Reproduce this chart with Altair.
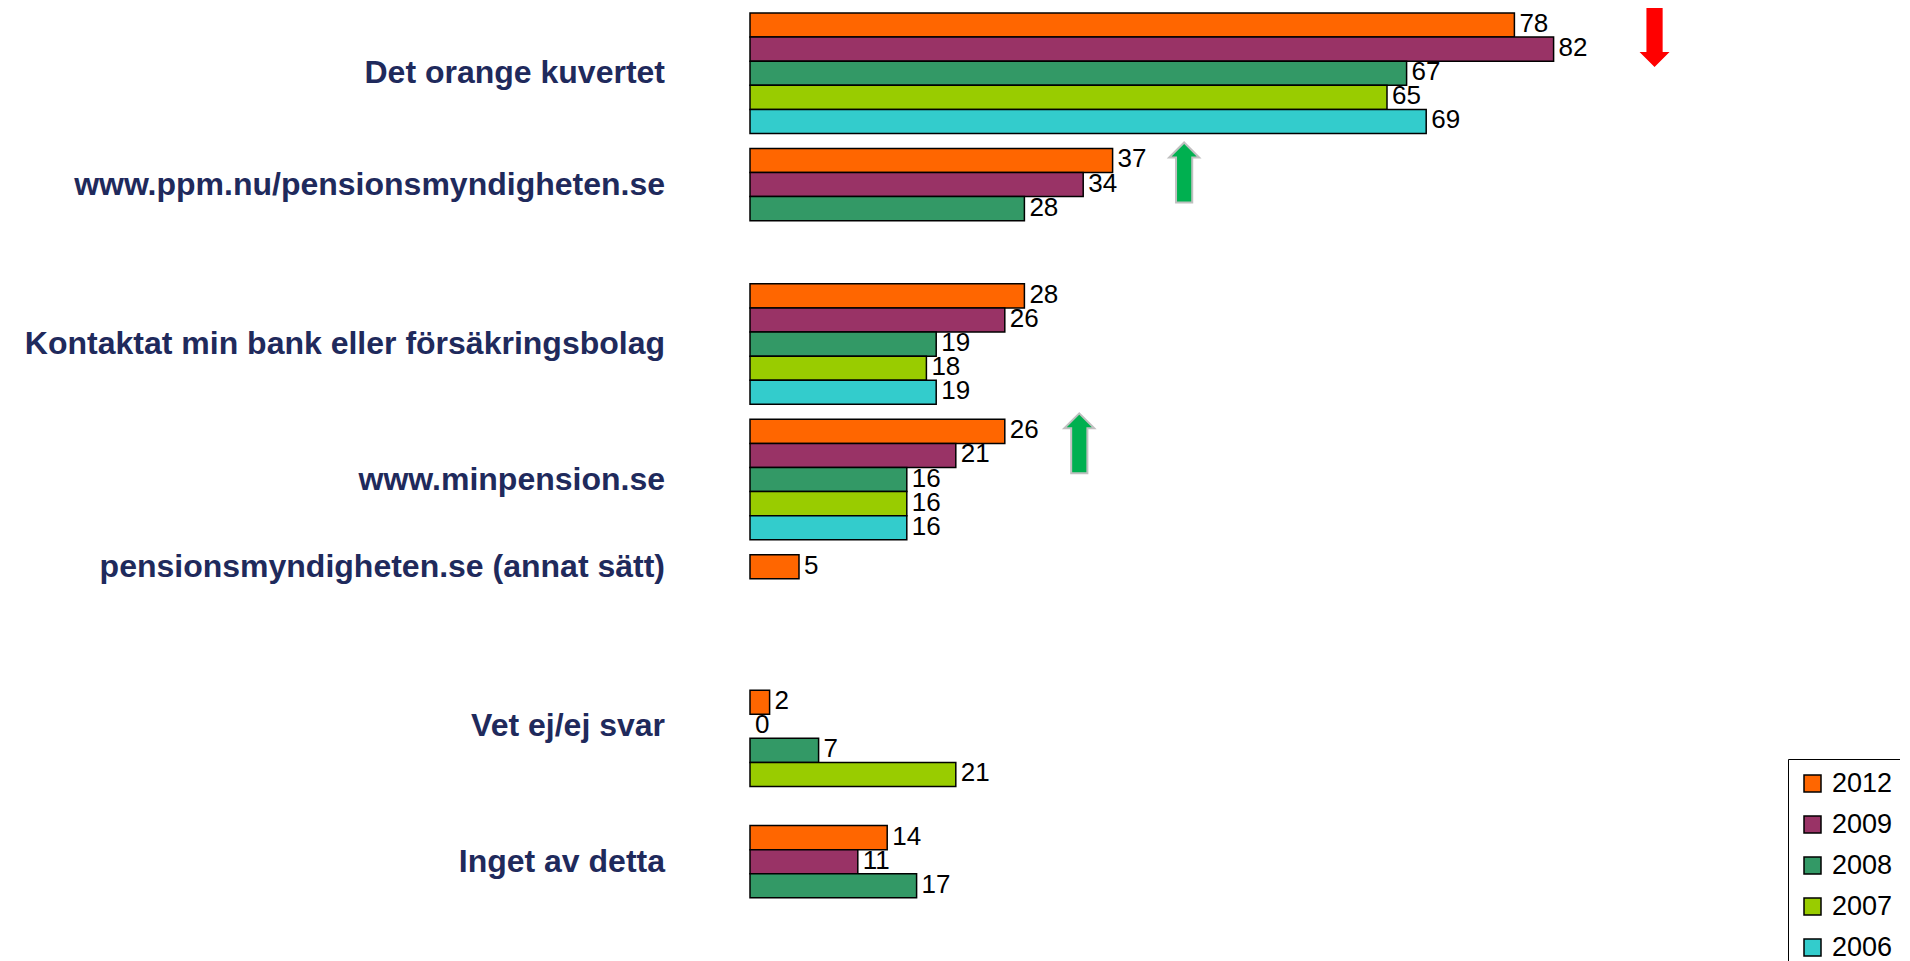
import altair as alt
import pandas as pd

categories = [
    "Det orange kuvertet",
    "www.ppm.nu/pensionsmyndigheten.se",
    "Kontaktat min bank eller försäkringsbolag",
    "www.minpension.se",
    "pensionsmyndigheten.se (annat sätt)",
    "Vet ej/ej svar",
    "Inget av detta",
]
years = ["2012", "2009", "2008", "2007", "2006"]
colors = ["#FF6600", "#993366", "#339966", "#99CC00", "#33CCCC"]

v2012 = [78, 37, 28, 26, 5, 2, 14]
v2009 = [82, 34, 26, 21, None, 0, 11]
v2008 = [67, 28, 19, 16, None, 7, 17]
v2007 = [65, None, 18, 16, None, 21, None]
v2006 = [69, None, 19, 16, None, None, None]

# change markers (arrows): category, direction, x position in value units
arrow_cat = ["Det orange kuvertet", "www.ppm.nu/pensionsmyndigheten.se", "www.minpension.se"]
arrow_dir = ["down", "up", "up"]
arrow_x = [92.3, 44.3, 33.6]

series = dict(zip(years, [v2012, v2009, v2008, v2007, v2006]))
rows = []
for i, c in enumerate(categories):
    for y in years:
        v = series[y][i]
        if v is not None:
            rows.append({"category": c, "year": y, "value": v})
df = pd.DataFrame(rows)

# label anchor: middle of the bars present for each category
lab_rows = []
for c in categories:
    present = [r["year"] for r in rows if r["category"] == c]
    lab_rows.append({"category": c, "year": present[(len(present) - 1) // 2]})
labdf = pd.DataFrame(lab_rows)

arrdf = pd.DataFrame({"category": arrow_cat, "dir": arrow_dir, "value": arrow_x, "year": "2012"})

yenc = alt.Y("category:N", scale=alt.Scale(domain=categories, paddingInner=0, paddingOuter=0), axis=None)
yoff = alt.YOffset("year:N", scale=alt.Scale(domain=years, paddingInner=0, paddingOuter=0.31, align=0))
xenc = alt.X("value:Q", scale=alt.Scale(domain=[0, 100]), axis=None)

bars = alt.Chart(df).transform_filter("datum.value > 0").mark_bar(
    stroke="black", strokeWidth=1.5, opacity=1
).encode(
    y=yenc, yOffset=yoff, x=xenc,
    color=alt.Color(
        "year:N",
        scale=alt.Scale(domain=years, range=colors),
        legend=alt.Legend(
            orient="none", legendX=1038, legendY=746, title=None,
            strokeColor="black", fillColor="white", padding=11,
            symbolType="square", symbolSize=289, symbolStrokeColor="black",
            symbolStrokeWidth=1.5, symbolOpacity=1,
            labelFontSize=27, labelFont="Liberation Sans", labelColor="black",
            rowPadding=13, labelOffset=6,
        ),
    ),
)

vals = alt.Chart(df).mark_text(
    align="left", baseline="middle", dx=5, dy=-1, fontSize=26, font="Liberation Sans", color="black"
).encode(y=yenc, yOffset=yoff, x=xenc, text="value:Q")

cats = alt.Chart(labdf).mark_text(
    align="right", baseline="middle", fontSize=32, fontWeight="bold",
    font="Liberation Sans", color="#1F2A5C"
).encode(y=yenc, yOffset=yoff, x=alt.value(-85), text="category:N")

down_path = "M -0.27,-0.6 L 0.27,-0.6 L 0.27,0.9 L 0.5,0.9 L 0,1.4 L -0.5,0.9 L -0.27,0.9 Z"
up_path = "M 0,-0.6 L 0.5,-0.1 L 0.27,-0.1 L 0.27,1.4 L -0.27,1.4 L -0.27,-0.1 L -0.5,-0.1 Z"

down = alt.Chart(arrdf).transform_filter("datum.dir == 'down'").mark_point(
    shape=down_path, size=3600, filled=True, fill="#FF0000", opacity=1, strokeWidth=0
).encode(y=yenc, yOffset=yoff, x=xenc)

up = alt.Chart(arrdf).transform_filter("datum.dir == 'up'").mark_point(
    shape=up_path, size=3600, filled=True, fill="#00B050", opacity=1,
    stroke="#C0C0C0", strokeWidth=2
).encode(y=yenc, yOffset=yoff, x=xenc)

chart = alt.layer(bars, vals, cats, down, up).properties(
    width=980, height=948,
    autosize=alt.AutoSizeParams(type="none"),
    padding={"left": 742, "top": 5, "right": 170, "bottom": 20},
).configure_view(stroke=None)

chart.save("out.html", embed_options={"renderer": "svg", "actions": False})
